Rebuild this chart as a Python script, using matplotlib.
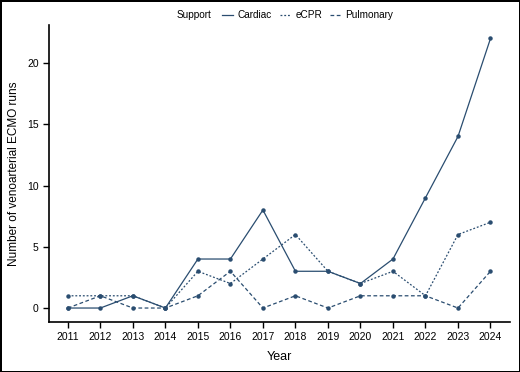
import matplotlib
matplotlib.use("Agg")
import matplotlib.pyplot as plt
from matplotlib import font_manager as fm

years = [2011, 2012, 2013, 2014, 2015, 2016, 2017, 2018, 2019, 2020, 2021, 2022, 2023, 2024]
cardiac = [0, 0, 1, 0, 4, 4, 8, 3, 3, 2, 4, 9, 14, 22]
ecpr = [1, 1, 1, 0, 3, 2, 4, 6, 3, 2, 3, 1, 6, 7]
pulmonary = [0, 1, 0, 0, 1, 3, 0, 1, 0, 1, 1, 1, 0, 3]
series_names = ["Cardiac", "eCPR", "Pulmonary"]
yticks = [0, 5, 10, 15, 20]

names = {f.name for f in fm.fontManager.ttflist}
narrow = "Liberation Sans Narrow" if "Liberation Sans Narrow" in names else "Liberation Sans"
plt.rcParams['font.family'] = ['Liberation Sans', 'DejaVu Sans']

color = "#2a4d70"
fig = plt.figure(figsize=(5.2, 3.72), dpi=100)
fig.patch.set_edgecolor("black")
fig.patch.set_linewidth(2)
ax = fig.add_axes([49/520, 1-322/372, (510-49)/520, (322-25)/372])

styles = ["-", (0, (1.5, 1.5)), (0, (3, 2))]
handles = []
for vals, ls, name in zip([cardiac, ecpr, pulmonary], styles, series_names):
    h, = ax.plot(years, vals, linestyle=ls, color=color, linewidth=0.9,
                 marker="o", markersize=2.2, label=name)
    handles.append(h)

ax.set_xlim(2010.42, 2024.6)
ax.set_ylim(-1.14, 23.1)
ax.set_xticks(years)
ax.set_xticklabels([str(y) for y in years])
ax.set_yticks(yticks)
ax.tick_params(labelsize=7.5, length=4, width=1, colors="black")
for s in ["top", "right"]:
    ax.spines[s].set_visible(False)
for s in ["left", "bottom"]:
    ax.spines[s].set_linewidth(1.2)
ax.set_xlabel("Year", fontsize=9, family=[narrow, 'DejaVu Sans'], labelpad=6)
ax.set_ylabel("Number of venoarterial ECMO runs", fontsize=8.5, family=[narrow, 'DejaVu Sans'], labelpad=5)

fig.text(177/520, 1-15/372, "Support", fontsize=7.2, va="center", ha="left")
leg = fig.legend(handles=handles, labels=series_names, loc="center left",
                 bbox_to_anchor=(222/520, 1-15/372), ncol=3, frameon=False, fontsize=7.2,
                 handlelength=1.1, handletextpad=0.45, columnspacing=0.8,
                 borderpad=0, borderaxespad=0)
for lh in leg.get_lines():
    lh.set_marker("")
fig.savefig("out.png", dpi=100, edgecolor=fig.get_edgecolor())
